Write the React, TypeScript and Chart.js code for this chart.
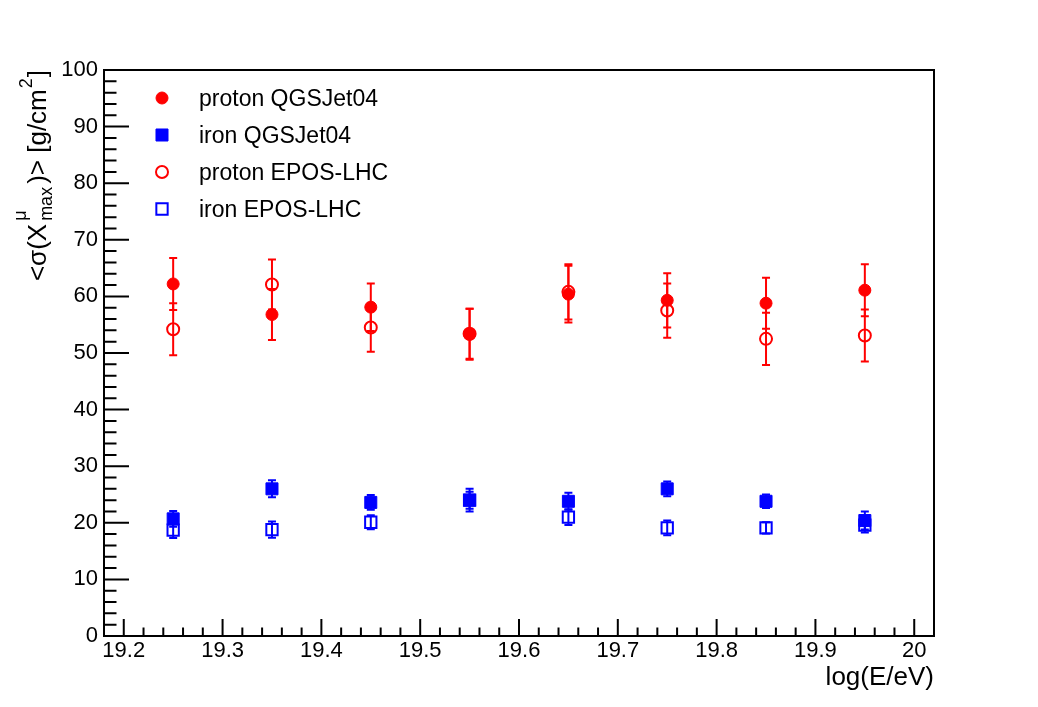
import React, { useEffect, useRef } from "react";
import { Chart, registerables } from "chart.js";

Chart.register(...registerables);

// ---------- data ----------
const energies = [19.25, 19.35, 19.45, 19.55, 19.65, 19.75, 19.85, 19.95];

const protonQGSJet04 = [62.2, 56.8, 58.1, 53.3, 60.4, 59.3, 58.8, 61.1];
const protonQGSJet04Err = [4.6, 4.5, 4.2, 4.5, 5.0, 4.8, 4.5, 4.6];

const ironQGSJet04 = [20.7, 26.0, 23.6, 24.0, 23.8, 26.0, 23.8, 20.4];
const ironQGSJet04Err = [1.4, 1.5, 1.3, 2.0, 1.5, 1.3, 1.2, 1.6];

const protonEPOSLHC = [54.2, 62.1, 54.5, 53.4, 60.8, 57.5, 52.5, 53.1];
const protonEPOSLHCErr = [4.6, 4.4, 4.3, 4.4, 4.9, 4.8, 4.6, 4.6];

const ironEPOSLHC = [18.7, 18.8, 20.1, 24.0, 21.0, 19.1, 19.1, 19.6];
const ironEPOSLHCErr = [1.4, 1.45, 1.25, 1.5, 1.4, 1.3, 1.0, 1.3];

const seriesLabels = ["proton QGSJet04", "iron QGSJet04", "proton EPOS-LHC", "iron EPOS-LHC"];

const xTickValues = [19.2, 19.3, 19.4, 19.5, 19.6, 19.7, 19.8, 19.9, 20.0];
const xTickLabels = ["19.2", "19.3", "19.4", "19.5", "19.6", "19.7", "19.8", "19.9", "20"];
const yTickValues = [0, 10, 20, 30, 40, 50, 60, 70, 80, 90, 100];
const yTickLabels = ["0", "10", "20", "30", "40", "50", "60", "70", "80", "90", "100"];
const minorDivisions = 5;

const xAxisTitle = "log(E/eV)";
// y title rich-text pieces
const yTitleMain1 = "<σ(X";
const yTitleSup1 = "μ";
const yTitleSub1 = "max";
const yTitleMain2 = ")> [g/cm";
const yTitleSup2 = "2";
const yTitleMain3 = "]";

// ---------- styles ----------
const RED = "#ff0000";
const BLUE = "#0000ff";
const CLEAR = "rgba(0,0,0,0)";
const FONT = "'Liberation Sans', Arial, Helvetica, sans-serif";

const mk = (vals: number[]) => energies.map((x, i) => ({ x, y: vals[i] }));

const rootPlugin = {
  id: "rootDecor",
  beforeDatasetsDraw(chart: any) {
    const ctx = chart.ctx;
    const xs = chart.scales.x;
    const ys = chart.scales.y;
    chart.data.datasets.forEach((ds: any) => {
      const errs: number[] = ds.errors || [];
      ctx.save();
      ctx.strokeStyle = ds.borderColor;
      ctx.lineWidth = 2;
      ds.data.forEach((p: any, i: number) => {
        const e = errs[i];
        if (e == null) return;
        const px = xs.getPixelForValue(p.x);
        const yTop = ys.getPixelForValue(p.y + e);
        const yBot = ys.getPixelForValue(p.y - e);
        ctx.beginPath();
        ctx.moveTo(px, yTop);
        ctx.lineTo(px, yBot);
        ctx.moveTo(px - 4, yTop);
        ctx.lineTo(px + 4, yTop);
        ctx.moveTo(px - 4, yBot);
        ctx.lineTo(px + 4, yBot);
        ctx.stroke();
      });
      ctx.restore();
    });
  },
  afterDraw(chart: any) {
    const ctx = chart.ctx;
    const area = chart.chartArea;
    const xs = chart.scales.x;
    const ys = chart.scales.y;
    ctx.save();
    // frame
    ctx.strokeStyle = "#000";
    ctx.lineWidth = 2;
    ctx.strokeRect(area.left, area.top, area.right - area.left, area.bottom - area.top);

    // x ticks (inside)
    const xMajorLen = 17;
    ctx.beginPath();
    for (let i = 0; i < xTickValues.length; i++) {
      const px = xs.getPixelForValue(xTickValues[i]);
      ctx.moveTo(px, area.bottom);
      ctx.lineTo(px, area.bottom - xMajorLen);
    }
    const xStep = (xTickValues[1] - xTickValues[0]) / minorDivisions;
    const xStart = xTickValues[0] - Math.floor((xTickValues[0] - xs.min) / xStep) * xStep;
    for (let k = 0; ; k++) {
      const v = xStart + k * xStep;
      if (v > xs.max + 1e-9) break;
      const px = xs.getPixelForValue(v);
      ctx.moveTo(px, area.bottom);
      ctx.lineTo(px, area.bottom - xMajorLen / 2);
    }
    // y ticks (inside)
    const yMajorLen = 25;
    for (let i = 0; i < yTickValues.length; i++) {
      const py = ys.getPixelForValue(yTickValues[i]);
      ctx.moveTo(area.left, py);
      ctx.lineTo(area.left + yMajorLen, py);
    }
    const yStep = (yTickValues[1] - yTickValues[0]) / minorDivisions;
    for (let k = 0; ; k++) {
      const v = yTickValues[0] + k * yStep;
      if (v > ys.max + 1e-9) break;
      const py = ys.getPixelForValue(v);
      ctx.moveTo(area.left, py);
      ctx.lineTo(area.left + yMajorLen / 2, py);
    }
    ctx.stroke();

    // x title
    ctx.fillStyle = "#000";
    ctx.font = `26px ${FONT}`;
    ctx.textAlign = "right";
    ctx.textBaseline = "alphabetic";
    ctx.fillText(xAxisTitle, area.right, 685);

    // y title (rotated, right-aligned to top of frame)
    const mainF = `26px ${FONT}`;
    const smallF = `18px ${FONT}`;
    ctx.font = mainF;
    const w1 = ctx.measureText(yTitleMain1).width;
    const w3 = ctx.measureText(yTitleMain2).width;
    const w5 = ctx.measureText(yTitleMain3).width;
    ctx.font = smallF;
    const w2 = Math.max(ctx.measureText(yTitleSup1).width, ctx.measureText(yTitleSub1).width);
    const w4 = ctx.measureText(yTitleSup2).width;
    const gaps = [3, 3, 1, 1];
    const total = w1 + w2 + w3 + w4 + w5 + gaps[0] + gaps[1] + gaps[2] + gaps[3];
    ctx.save();
    ctx.translate(46, area.top);
    ctx.rotate(-Math.PI / 2);
    ctx.textAlign = "left";
    let cx = -total;
    ctx.font = mainF;
    ctx.fillText(yTitleMain1, cx, 0);
    cx += w1 + gaps[0];
    ctx.font = smallF;
    ctx.fillText(yTitleSup1, cx, -20);
    ctx.fillText(yTitleSub1, cx, 6);
    cx += w2 + gaps[1];
    ctx.font = mainF;
    ctx.fillText(yTitleMain2, cx, 0);
    cx += w3 + gaps[2];
    ctx.font = smallF;
    ctx.fillText(yTitleSup2, cx, -14);
    cx += w4 + gaps[3];
    ctx.font = mainF;
    ctx.fillText(yTitleMain3, cx, 0);
    ctx.restore();

    // legend
    const lx = 162;
    const ly0 = 98;
    const dy = 37;
    chart.data.datasets.forEach((ds: any, i: number) => {
      const cy = ly0 + i * dy;
      ctx.save();
      ctx.strokeStyle = ds.borderColor;
      ctx.fillStyle = ds.backgroundColor;
      const filled = ds.backgroundColor !== CLEAR;
      ctx.lineWidth = ds.pointBorderWidth;
      ctx.beginPath();
      if (ds.pointStyle === "circle") {
        ctx.arc(lx, cy, ds.pointRadius, 0, Math.PI * 2);
      } else {
        const s = ds.pointRadius * Math.SQRT1_2;
        ctx.rect(lx - s, cy - s, 2 * s, 2 * s);
      }
      if (filled) ctx.fill();
      ctx.stroke();
      ctx.restore();
      ctx.fillStyle = "#000";
      ctx.font = `23px ${FONT}`;
      ctx.textAlign = "left";
      ctx.textBaseline = "alphabetic";
      ctx.fillText(ds.label, 199, cy + 8);
    });
    ctx.restore();
  },
};

export default function App() {
  const ref = useRef<HTMLCanvasElement | null>(null);
  useEffect(() => {
    if (!ref.current) return;
    const chart = new Chart(ref.current, {
      type: "scatter",
      data: {
        datasets: [
          {
            label: seriesLabels[0],
            data: mk(protonQGSJet04),
            errors: protonQGSJet04Err,
            pointStyle: "circle",
            pointRadius: 6,
            pointBorderWidth: 1,
            backgroundColor: RED,
            borderColor: RED,
            order: 4,
          } as any,
          {
            label: seriesLabels[1],
            data: mk(ironQGSJet04),
            errors: ironQGSJet04Err,
            pointStyle: "rect",
            pointRadius: 8.5,
            pointBorderWidth: 1,
            backgroundColor: BLUE,
            borderColor: BLUE,
            order: 3,
          } as any,
          {
            label: seriesLabels[2],
            data: mk(protonEPOSLHC),
            errors: protonEPOSLHCErr,
            pointStyle: "circle",
            pointRadius: 6,
            pointBorderWidth: 2,
            backgroundColor: CLEAR,
            borderColor: RED,
            order: 2,
          } as any,
          {
            label: seriesLabels[3],
            data: mk(ironEPOSLHC),
            errors: ironEPOSLHCErr,
            pointStyle: "rect",
            pointRadius: 8,
            pointBorderWidth: 2,
            backgroundColor: CLEAR,
            borderColor: BLUE,
            order: 1,
          } as any,
        ],
      },
      options: {
        animation: false,
        responsive: false,
        devicePixelRatio: 1,
        events: [],
        layout: { padding: { left: 0, top: 70, right: 104, bottom: 0 } },
        plugins: { legend: { display: false }, tooltip: { enabled: false } },
        scales: {
          x: {
            type: "linear",
            min: 19.18,
            max: 20.02,
            grid: { display: false, drawTicks: false },
            border: { display: false },
            afterBuildTicks: (s: any) => {
              s.ticks = xTickValues.map((v) => ({ value: v }));
            },
            afterFit: (s: any) => {
              s.height = 71;
            },
            ticks: {
              autoSkip: false,
              maxRotation: 0,
              padding: 2,
              color: "#000",
              font: { family: FONT, size: 22 },
              callback: (_v: any, i: number) => xTickLabels[i],
            },
          },
          y: {
            type: "linear",
            min: 0,
            max: 100,
            grid: { display: false, drawTicks: false },
            border: { display: false },
            afterBuildTicks: (s: any) => {
              s.ticks = yTickValues.map((v) => ({ value: v }));
            },
            afterFit: (s: any) => {
              s.width = 104;
            },
            ticks: {
              autoSkip: false,
              padding: 6,
              color: "#000",
              font: { family: FONT, size: 22 },
              callback: (_v: any, i: number) => yTickLabels[i],
            },
          },
        },
      } as any,
      plugins: [rootPlugin],
    });
    return () => chart.destroy();
  }, []);
  return (
    <canvas
      ref={ref}
      width={1038}
      height={707}
      style={{ position: "fixed", left: 0, top: 0, width: 1038, height: 707 }}
    />
  );
}
